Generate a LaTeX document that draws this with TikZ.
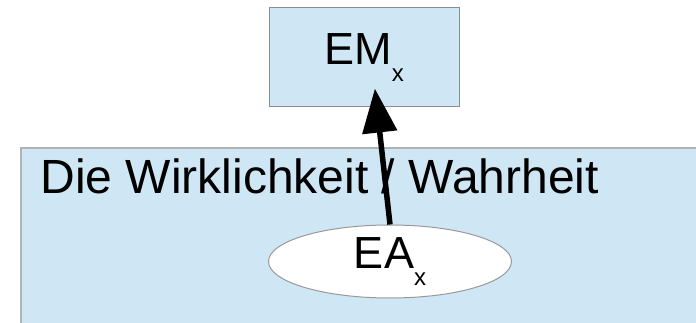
\documentclass[tikz,border=0pt]{standalone}
\usepackage{fontspec}
\setmainfont{Liberation Sans}
\usetikzlibrary{arrows.meta,shapes.geometric}
\definecolor{paleblue}{HTML}{CFE7F5}
\tikzstyle{box}=[rectangle,draw=black!45,fill=paleblue,line width=1pt,inner sep=0pt]
\tikzstyle{entity}=[ellipse,draw=black!40,fill=white,line width=1pt,inner sep=0pt]
\tikzstyle{edge}=[draw,line width=5.5pt,-{Triangle[length=44pt,width=34pt]}]
\tikzstyle{label}=[font=\fontsize{45}{45}\selectfont]
\newcommand{\lowx}[1]{\raisebox{-17pt}{\fontsize{24}{24}\selectfont #1}}

\begin{document}
\begin{tikzpicture}[x=1pt,y=-1pt]
    \clip (0,0) rectangle (696,323);
    % the surrounding area, running off the page
    \node[box,draw=black!30,line width=2pt,anchor=north west,minimum width=720pt,minimum height=220pt] (world) at (20,147) {};
    \node[anchor=base west,font=\fontsize{48}{48}\selectfont] (title) at (37,194) {Die Wirklichkeit / Wahrheit};
        \node[box,label,minimum width=190pt,minimum height=99pt] (em) at (364,57.5) {EM\lowx{x}};
        \node[entity,label,minimum width=243pt,minimum height=73pt] (ea) at (390,261.5) {EA\lowx{x}};
        \path[edge,shorten >=-19pt] (ea.north) -- ([xshift=13pt]em.south);
    \end{tikzpicture}
\end{document}
